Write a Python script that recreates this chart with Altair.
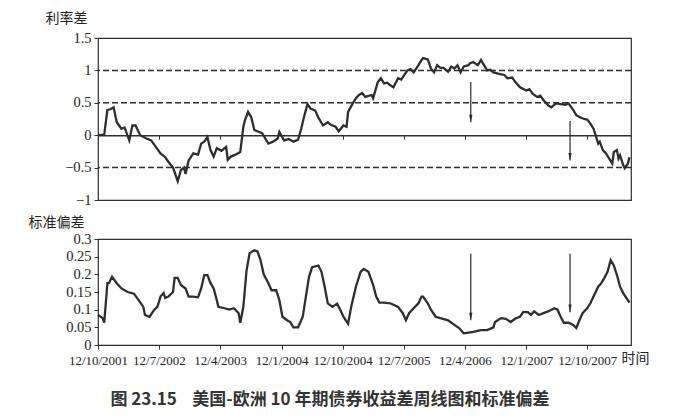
import altair as alt
import pandas as pd

START = pd.Timestamp("2001-10-12")

# weeks since 12/10/2001
spread_weeks = [
    0, 4, 6, 8, 10, 12, 15, 17, 20, 22,
    24, 27, 31, 34, 37, 40, 43, 45, 48, 51,
    53, 55, 56, 58, 61, 64, 66, 68, 70, 72,
    74, 76, 79, 82, 83, 85, 88, 91, 93, 94,
    96, 98, 100, 102, 105, 109, 112, 115, 116, 119,
    122, 125, 128, 130, 132, 134, 136, 139, 141, 144,
    147, 149, 152, 154, 157, 159, 160, 163, 165, 167,
    169, 171, 175, 176, 179, 181, 183, 185, 187, 189,
    192, 194, 196, 198, 200, 202, 205, 207, 208, 211,
    213, 215, 217, 219, 221, 224, 226, 228, 230, 232,
    234, 237, 238, 240, 243, 245, 247, 249, 251, 253,
    256, 258, 260, 262, 265, 267, 270, 274, 276, 278,
    281, 283, 285, 288, 290, 293, 296, 299, 301, 304,
    306, 308, 311, 313, 315, 317, 318, 320, 321, 323,
    325, 327, 329, 330, 332, 333, 334, 336, 337, 339, 340,
]
spread = [
    0.0, 0.01, 0.39, 0.40, 0.43, 0.2, 0.1, 0.12, -0.08, 0.15,
    0.15, 0.0, -0.05, -0.08, -0.18, -0.28, -0.34, -0.41, -0.5, -0.71,
    -0.54, -0.5, -0.6, -0.39, -0.28, -0.3, -0.13, -0.1, -0.03, -0.23,
    -0.33, -0.2, -0.24, -0.18, -0.38, -0.33, -0.3, -0.26, 0.13, 0.23,
    0.36, 0.28, 0.08, 0.06, 0.03, -0.13, -0.1, -0.05, 0.05, -0.08,
    -0.06, -0.1, -0.07, 0.1, 0.3, 0.48, 0.41, 0.38, 0.27, 0.15,
    0.2, 0.16, 0.13, 0.06, 0.15, 0.13, 0.36, 0.49, 0.57, 0.62,
    0.65, 0.59, 0.62, 0.57, 0.82, 0.88, 0.8, 0.81, 0.77, 0.74,
    0.88, 0.86, 0.93, 1.0, 1.02, 0.97, 1.08, 1.16, 1.19, 1.17,
    1.03, 0.97, 1.08, 1.04, 1.04, 0.98, 1.06, 1.03, 1.08, 0.97,
    1.06, 1.08, 1.11, 1.13, 1.08, 1.16, 1.08, 1.0, 1.01, 0.97,
    0.95, 0.94, 0.93, 0.88, 0.89, 0.82, 0.74, 0.69, 0.71, 0.64,
    0.59, 0.61, 0.54, 0.46, 0.43, 0.49, 0.48, 0.47, 0.49, 0.39,
    0.31, 0.28, 0.25, 0.24, 0.18, 0.1, 0.03, -0.13, -0.1, -0.23,
    -0.28, -0.36, -0.44, -0.26, -0.23, -0.36, -0.31, -0.46, -0.51, -0.44, -0.34,
]

sd_weeks = [
    0, 3, 4, 6, 7, 9, 12, 15, 19, 23,
    26, 29, 30, 33, 36, 38, 40, 42, 43, 45,
    48, 49, 51, 53, 56, 58, 61, 64, 66, 68,
    70, 72, 74, 76, 77, 81, 84, 87, 90, 91,
    93, 95, 97, 100, 102, 104, 106, 109, 111, 114,
    116, 118, 121, 123, 125, 128, 131, 133, 135, 137,
    141, 143, 145, 147, 150, 153, 155, 157, 160, 162,
    165, 168, 170, 173, 176, 178, 180, 183, 187, 192,
    195, 197, 199, 201, 205, 207, 208, 211, 213, 216,
    219, 224, 228, 231, 234, 237, 240, 245, 249, 253,
    254, 258, 261, 264, 267, 270, 272, 275, 277, 279,
    282, 285, 288, 292, 294, 296, 298, 301, 304, 306,
    308, 310, 313, 315, 317, 320, 322, 324, 326, 328,
    330, 332, 334, 336, 339, 340,
]
sd = [
    0.085, 0.076, 0.063, 0.175, 0.175, 0.193, 0.175, 0.16, 0.15, 0.145,
    0.127, 0.108, 0.085, 0.08, 0.1, 0.108, 0.137, 0.147, 0.133, 0.137,
    0.15, 0.19, 0.19, 0.17, 0.16, 0.137, 0.137, 0.135, 0.16, 0.198,
    0.198, 0.175, 0.16, 0.127, 0.108, 0.104, 0.1, 0.104, 0.09, 0.063,
    0.108, 0.21, 0.26, 0.268, 0.265, 0.24, 0.2, 0.175, 0.155, 0.155,
    0.127, 0.08, 0.07, 0.065, 0.05, 0.05, 0.08, 0.137, 0.193, 0.22,
    0.225, 0.207, 0.165, 0.118, 0.108, 0.117, 0.1, 0.08, 0.06, 0.108,
    0.165, 0.207, 0.215, 0.207, 0.17, 0.137, 0.12, 0.12, 0.118, 0.108,
    0.09, 0.07, 0.09, 0.1, 0.118, 0.137, 0.137, 0.118, 0.1, 0.08,
    0.076, 0.07, 0.057, 0.048, 0.033, 0.035, 0.037, 0.042, 0.042, 0.05,
    0.065, 0.076, 0.074, 0.065, 0.075, 0.08, 0.093, 0.093, 0.085, 0.095,
    0.085, 0.09, 0.095, 0.104, 0.1, 0.08, 0.063, 0.063, 0.057, 0.048,
    0.07, 0.09, 0.104, 0.118, 0.137, 0.165, 0.175, 0.19, 0.207, 0.24,
    0.225, 0.198, 0.165, 0.147, 0.127, 0.12,
]

ref_levels = [1, 0.5, -0.5]
arrow_weeks = [238.5, 302]
arrow_spread_from = [0.82, 0.22]
arrow_spread_to = [0.2, -0.39]
arrow_sd_from = [0.258, 0.258]
arrow_sd_to = [0.07, 0.093]

tick_dates = [(2001, 10, 12), (2002, 7, 12), (2003, 4, 12), (2004, 1, 12),
              (2004, 10, 12), (2005, 7, 12), (2006, 4, 12), (2007, 1, 12),
              (2007, 10, 12)]
end_date = (2008, 4, 25)

spread_ticks = [-1, -0.5, 0, 0.5, 1, 1.5]
sd_ticks = [0, 0.05, 0.1, 0.15, 0.2, 0.25, 0.3]

INK = "#2e2e2e"
SERIF = "Liberation Serif, DejaVu Serif, serif"
CJK = "Noto Sans CJK SC"
W = 533


def to_dates(weeks):
    return [(START + pd.Timedelta(days=w * 7)).strftime("%Y-%m-%dT%H:%M:%S")
            for w in weeks]


def dt(t):
    return alt.DateTime(year=t[0], month=t[1], date=t[2])


x_scale = alt.Scale(domain=[dt(tick_dates[0]), dt(end_date)])
tick_values = [dt(t) for t in tick_dates]

spread_df = pd.DataFrame({"date": to_dates(spread_weeks), "value": spread})
sd_df = pd.DataFrame({"date": to_dates(sd_weeks), "value": sd})
ref_df = pd.DataFrame({"value": ref_levels})
arrow_spread_df = pd.DataFrame({"date": to_dates(arrow_weeks),
                                "value": arrow_spread_from,
                                "value2": arrow_spread_to})
arrow_sd_df = pd.DataFrame({"date": to_dates(arrow_weeks),
                            "value": arrow_sd_from,
                            "value2": arrow_sd_to})

head = "M-0.35,-1.6L0,0L0.35,-1.6Z"


def y_axis(values, title, tx, ty):
    return alt.Axis(values=values, format="~g", title=title,
                    titleAngle=0, titleAlign="left", titleBaseline="bottom",
                    titleX=tx, titleY=ty, titleFont=CJK, titleFontSize=14,
                    titleFontWeight="normal", titleColor="#222",
                    labelFont=SERIF, labelFontSize=14.5, labelColor="#222",
                    labelOverlap=False, labelFlush=False,
                    tickSize=4, labelPadding=3, domain=False)


def panel(df, arrows, y_scale, yax, xax, height, refs=None):
    # every layer carries the same axis objects so the merged axis keeps them
    x = alt.X("date:T", scale=x_scale, axis=xax)
    line = alt.Chart(df).mark_line(color=INK, strokeWidth=2.3).encode(
        x=x,
        y=alt.Y("value:Q", scale=y_scale, axis=yax),
    )
    shaft = alt.Chart(arrows).mark_rule(color=INK, strokeWidth=1.2).encode(
        x=x,
        y=alt.Y("value:Q", scale=y_scale, axis=yax),
        y2="value2:Q",
    )
    tip = alt.Chart(arrows).mark_point(
        shape=head, filled=True, color=INK, opacity=1, size=90
    ).encode(
        x=x,
        y=alt.Y("value2:Q", scale=y_scale, axis=yax),
    )
    layers = [line, shaft, tip]
    if refs is not None:
        dash = alt.Chart(refs).mark_rule(
            color=INK, strokeWidth=1.5, strokeDash=[6, 3]
        ).encode(y=alt.Y("value:Q", scale=y_scale, axis=yax))
        layers = [dash] + layers
    return alt.layer(*layers).properties(width=W, height=height)


top = panel(
    spread_df, arrow_spread_df,
    alt.Scale(domain=[-1, 1.5], nice=False, zero=False),
    y_axis(spread_ticks, "利率差", -53, -13),
    alt.Axis(values=tick_values, labels=False, title=None, offset=-64.8,
             tickSize=4, domain=True, domainWidth=1.5, zindex=1),
    162, refs=ref_df,
)

bottom = panel(
    sd_df, arrow_sd_df,
    alt.Scale(domain=[0, 0.3], nice=False),
    y_axis(sd_ticks, "标准偏差", -70, -10),
    alt.Axis(values=tick_values, format="%-d/%-m/%Y", title="时间",
             titleAngle=0, titleAlign="left", titleBaseline="middle",
             titleX=523, titleY=13, titleFont=CJK,
             titleFontSize=14, titleFontWeight="normal", titleColor="#222",
             labelFont=SERIF, labelFontSize=13, labelColor="#222",
             labelPadding=5, tickSize=4,
             labelFlush=False, labelOverlap=False, domain=False),
    106,
)

caption = "图 23.15\u00a0\u00a0\u00a0\u00a0美国-欧洲 10 年期债券收益差周线图和标准偏差"

chart = alt.vconcat(
    top, bottom, spacing=39, bounds="flush"
).properties(
    title=alt.TitleParams(caption, orient="bottom", anchor="start", dx=83,
                          offset=24, font=CJK, fontSize=17,
                          fontWeight="bold", color="#333"),
    padding={"left": 19, "top": 2, "right": 10, "bottom": 5},
).configure_view(
    stroke=INK, strokeWidth=1.2
).configure_axis(
    tickColor=INK, domainColor=INK, grid=False
)

chart.save("out.html", embed_options={"renderer": "svg", "actions": False})
